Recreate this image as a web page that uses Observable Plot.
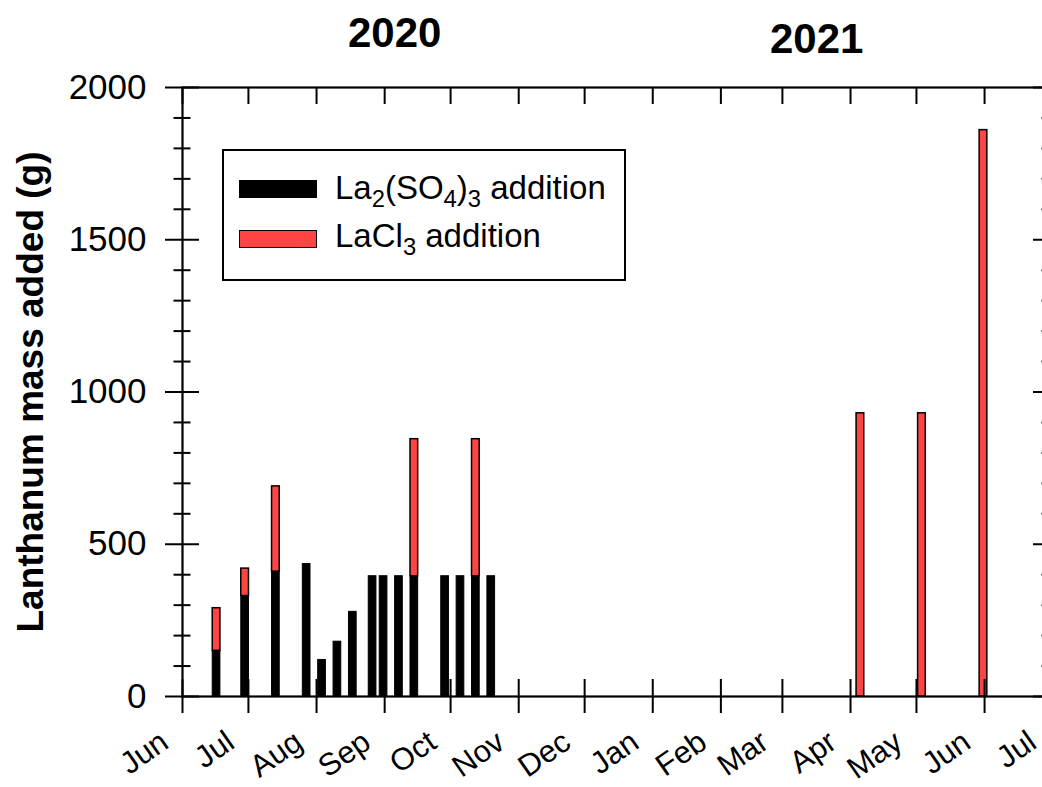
<!DOCTYPE html>
<html>
<head>
<meta charset="utf-8">
<script src="https://cdn.jsdelivr.net/npm/d3@7"></script>
<script src="https://cdn.jsdelivr.net/npm/@observablehq/plot@0.6"></script>
<style>
  body { margin: 0; background: #fff; overflow: hidden; font-family: "Liberation Sans", Arial, sans-serif; }
  #wrap { position: relative; width: 1042px; height: 787px; overflow: hidden; }
  .yr { position: absolute; font-weight: bold; font-size: 42px; line-height: 42px; color: #000; }
  #legend { position: absolute; left: 222px; top: 149px; width: 404px; height: 132px; border: 2px solid #000; box-sizing: border-box; background: #fff; }
  .sw { position: absolute; left: 15px; width: 78px; height: 18px; box-sizing: border-box; border: 1.5px solid #000; }
  .lt { position: absolute; left: 111px; font-size: 33px; line-height: 33px; white-space: nowrap; color: #000; }
  .lt span.s { font-size: 0.72em; position: relative; top: 0.33em; }
</style>
</head>
<body>
<div id="wrap">
  <div id="chart"></div>
  <div class="yr" style="left:348px;top:12px;">2020</div>
  <div class="yr" style="left:770px;top:18px;">2021</div>
  <div id="legend">
    <div class="sw" style="top:29px;background:#000;"></div>
    <div class="lt" style="top:20px;">La<span class="s">2</span>(SO<span class="s">4</span>)<span class="s">3</span> addition</div>
    <div class="sw" style="top:79px;background:#ff4444;"></div>
    <div class="lt" style="top:68px;">LaCl<span class="s">3</span> addition</div>
  </div>
</div>
<script>
// ---- data ----
const dates = ["2020-06-16", "2020-06-29", "2020-07-13", "2020-07-27", "2020-08-03", "2020-08-10",
  "2020-08-17", "2020-08-26", "2020-08-31", "2020-09-07", "2020-09-14", "2020-09-28",
  "2020-10-05", "2020-10-12", "2020-10-19", "2021-04-05", "2021-05-03", "2021-05-31"];
const sulfate = [150, 330, 410, 435, 120, 180, 278, 395, 395, 395, 395, 395, 395, 395, 395, 0, 0, 0];
const chloride = [140, 90, 280, 0, 0, 0, 0, 0, 0, 0, 450, 0, 0, 450, 0, 930, 930, 1860];
const monthTicks = ["2020-06-01", "2020-07-01", "2020-08-01", "2020-09-01", "2020-10-01", "2020-11-01",
  "2020-12-01", "2021-01-01", "2021-02-01", "2021-03-01", "2021-04-01", "2021-05-01", "2021-06-01", "2021-07-01"];
const monthLabels = ["Jun", "Jul", "Aug", "Sep", "Oct", "Nov", "Dec", "Jan", "Feb", "Mar", "Apr", "May", "Jun", "Jul"];
const yMajor = [0, 500, 1000, 1500, 2000];
const yMinor = [100, 200, 300, 400, 600, 700, 800, 900, 1100, 1200, 1300, 1400, 1600, 1700, 1800, 1900];

// ---- table ----
const halfDays = 1.75;
const rows = dates.map((d, i) => ({
  date: new Date(d + "T12:00:00Z"),
  sulfate: sulfate[i],
  chloride: chloride[i]
}));
const ticks = monthTicks.map((d, i) => ({ date: new Date(d + "T00:00:00Z"), label: monthLabels[i] }));
const x1 = d => d3.utcHour.offset(d.date, -24 * halfDays);
const x2 = d => d3.utcHour.offset(d.date, 24 * halfDays);

const width = 1042, height = 787;
const mL = 182, mR = -8, mT = 87, mB = 91;
const W = width - mL - mR, H = height - mT - mB;

const chart = Plot.plot({
  width, height,
  marginLeft: mL, marginRight: mR, marginTop: mT, marginBottom: mB,
  style: { fontFamily: "Liberation Sans, Arial, sans-serif", background: "#fff" },
  x: { type: "utc", domain: [new Date("2020-06-01T00:00:00Z"), new Date("2021-07-01T00:00:00Z")], axis: null },
  y: { domain: [0, 2000], axis: null },
  marks: [
    // bars
    Plot.rectY(rows.filter(d => d.sulfate > 0), { x1, x2, y1: 0, y2: "sulfate", fill: "#000", stroke: "#000", strokeWidth: 1 }),
    Plot.rectY(rows.filter(d => d.chloride > 0), { x1, x2, y1: "sulfate", y2: d => d.sulfate + d.chloride, fill: "#ff4444", stroke: "#000", strokeWidth: 1.5 }),
    // frame
    Plot.frame({ stroke: "#000", strokeWidth: 2.2 }),
    // left ticks (crossing)
    Plot.tickY(yMajor, { y: d => d, stroke: "#000", strokeWidth: 2, insetLeft: -17, insetRight: W - 17 }),
    Plot.tickY(yMinor, { y: d => d, stroke: "#000", strokeWidth: 2, insetLeft: -8.5, insetRight: W - 8.5 }),
    // right ticks (inward)
    Plot.tickY(yMajor, { y: d => d, stroke: "#000", strokeWidth: 2, insetLeft: W - 17, insetRight: 0 }),
    Plot.tickY(yMinor, { y: d => d, stroke: "#000", strokeWidth: 2, insetLeft: W - 8.5, insetRight: 0 }),
    // bottom ticks (crossing) and top ticks (inward)
    Plot.tickX(ticks, { x: "date", stroke: "#000", strokeWidth: 2, insetTop: H - 17, insetBottom: -17 }),
    Plot.tickX(ticks, { x: "date", stroke: "#000", strokeWidth: 2, insetTop: 0, insetBottom: H - 17 }),
    // y tick labels
    Plot.text(yMajor, { y: d => d, frameAnchor: "left", dx: -36, textAnchor: "end", text: d => String(d), fontSize: 35, fill: "#000" }),
    // month labels
    Plot.text(ticks, { x: "date", frameAnchor: "bottom", text: "label", dx: -12, dy: 50, rotate: -35, textAnchor: "end", fontSize: 31, fill: "#000" }),
    // y label
    Plot.text(["Lanthanum mass added (g)"], { frameAnchor: "left", dx: -151, rotate: -90, textAnchor: "middle", fontSize: 37, fontWeight: "bold", fill: "#000" })
  ]
});
document.getElementById("chart").appendChild(chart);
</script>
</body>
</html>
